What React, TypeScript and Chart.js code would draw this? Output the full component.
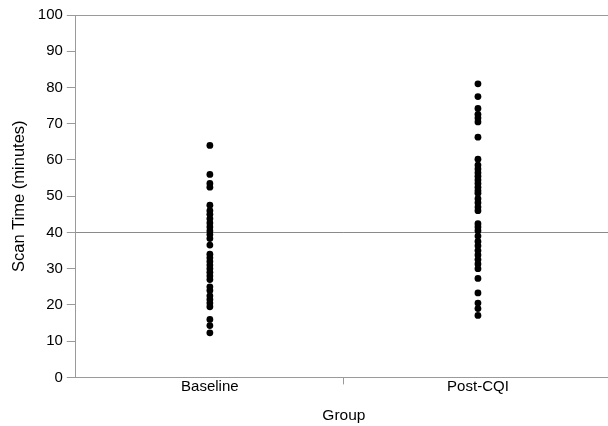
import React, { useEffect, useRef } from "react";
import { Chart, registerables } from "chart.js";

Chart.register(...registerables);

const groups = ["Baseline", "Post-CQI"];
const baselineValues = [64, 56, 53.5, 52.5, 47.5, 46, 45, 43.8, 42.6, 41.5, 40.4, 39.4, 38.3, 36.5, 34, 33, 32, 31, 30, 29, 28, 27, 25, 24, 22.5, 21.5, 20.5, 19.5, 16, 14.3, 12.3];
const postValues = [81, 77.5, 74.2, 72.6, 71.6, 70.5, 66.3, 60.2, 58.6, 57.5, 56.5, 55.5, 54.5, 53.5, 52.5, 51.5, 50.8, 49.3, 48.2, 47, 46, 42.4, 41.5, 40.5, 39, 37.5, 36.3, 35, 33.8, 32.5, 31.3, 30, 27.3, 23.3, 20.5, 19, 17.1];
const referenceLine = 40;
const yMin = 0;
const yMax = 100;
const yStep = 10;

const AXIS = "#9a9a9a";
const FONT = "'Liberation Sans', Arial, sans-serif";

export default function App() {
  const ref = useRef<HTMLCanvasElement | null>(null);
  useEffect(() => {
    if (!ref.current) return;
    const refLinePlugin = {
      id: "refLine",
      beforeDatasetsDraw(chart: any) {
        const { ctx, chartArea, scales } = chart;
        const y = Math.round(scales.y.getPixelForValue(referenceLine)) + 0.5;
        ctx.save();
        ctx.strokeStyle = "#8a8a8a";
        ctx.lineWidth = 1;
        ctx.beginPath();
        ctx.moveTo(chartArea.left, y);
        ctx.lineTo(chartArea.right, y);
        ctx.stroke();
        ctx.restore();
      },
    };
    const chart = new Chart(ref.current, {
      type: "scatter",
      data: {
        labels: groups,
        datasets: [
          {
            data: baselineValues.map((v) => ({ x: groups[0], y: v })),
            backgroundColor: "#000",
            borderColor: "#000",
            pointRadius: 3.4,
            pointBorderWidth: 0,
          },
          {
            data: postValues.map((v) => ({ x: groups[1], y: v })),
            backgroundColor: "#000",
            borderColor: "#000",
            pointRadius: 3.4,
            pointBorderWidth: 0,
          },
        ],
      },
      options: {
        animation: false,
        responsive: false,
        layout: { padding: { top: 15, right: 0, left: 10, bottom: 1 } },
        plugins: { legend: { display: false }, tooltip: { enabled: false } },
        scales: {
          x: {
            type: "category",
            labels: groups,
            offset: true,
            border: { display: true, color: AXIS, width: 1 },
            grid: {
              offset: true,
              drawOnChartArea: false,
              drawTicks: true,
              tickLength: 7,
              tickColor: (c: any) => (c.type === "tick" && c.index === 1 ? AXIS : "rgba(0,0,0,0)"),
            },
            ticks: { color: "#000", font: { family: FONT, size: 15 }, padding: -7 },
            title: {
              display: true,
              text: "Group",
              color: "#000",
              font: { family: FONT, size: 15.5 },
              padding: { top: 18, bottom: 0 },
            },
          },
          y: {
            min: yMin,
            max: yMax,
            border: { display: true, color: AXIS, width: 1 },
            grid: {
              drawOnChartArea: true,
              drawTicks: true,
              tickLength: 9,
              tickColor: AXIS,
              color: (c: any) => (c.tick && c.tick.value === yMax ? AXIS : "rgba(0,0,0,0)"),
            },
            ticks: { stepSize: yStep, color: "#000", font: { family: FONT, size: 15 }, padding: 4 },
            title: {
              display: true,
              text: "Scan Time (minutes)",
              color: "#000",
              font: { family: FONT, size: 16.5 },
              padding: { top: 0, bottom: 4 },
            },
          },
        },
      },
      plugins: [refLinePlugin],
    });
    return () => chart.destroy();
  }, []);
  return (
    <div style={{ position: "fixed", left: 0, top: 0, width: 608, height: 426, background: "#fff", overflow: "hidden" }}>
      <canvas ref={ref} width={616} height={426} />
    </div>
  );
}
